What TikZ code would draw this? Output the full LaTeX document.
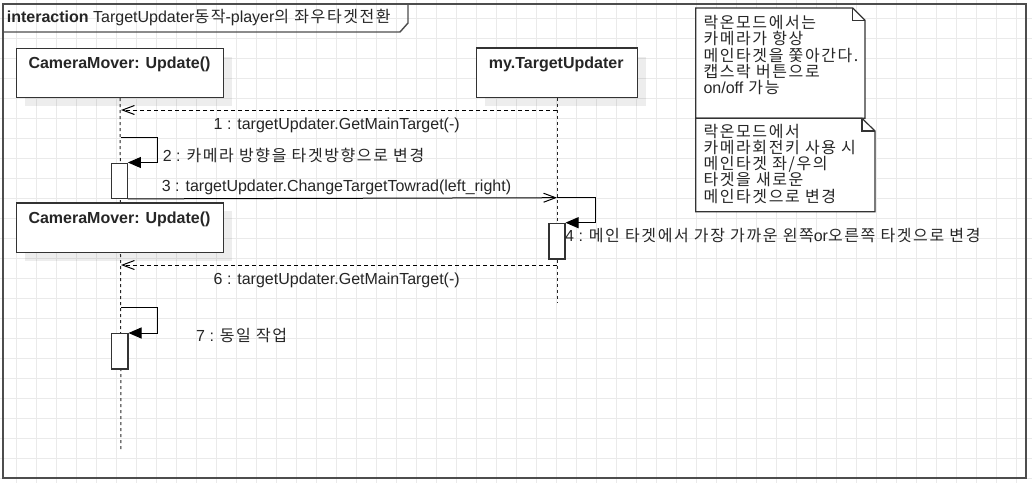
\documentclass[tikz,border=0pt]{standalone}
\usepackage{fontspec}
\setmainfont{Liberation Sans}
\newfontfamily\kr[LetterSpace=10]{Noto Sans CJK KR}
\usetikzlibrary{arrows.meta}
\definecolor{gridc}{HTML}{EAEAEA}
\definecolor{linec}{HTML}{333333}
\definecolor{framec}{HTML}{4D4D4D}
\tikzset{
  txt/.style={inner sep=0pt, font=\fontsize{16pt}{16pt}\selectfont, text=black!85},
  boxtxt/.style={txt, font=\bfseries\fontsize{16pt}{16pt}\selectfont, anchor=base},
  lifebox/.style={draw=linec, line width=1.2pt, fill=white, anchor=north west, inner sep=0pt},
  shadowbox/.style={fill=black, fill opacity=0.07},
  lifeline/.style={draw=black!85, line width=1pt, dash pattern=on 3pt off 3pt},
  actbox/.style={draw=linec, line width=1.2pt, fill=white, anchor=north west, inner sep=0pt, minimum width=16pt},
  callmsg/.style={draw=black, line width=1pt, -{Straight Barb[length=12pt,width=9pt]}},
  retmsg/.style={draw=black, line width=1pt, dash pattern=on 4pt off 3pt, -{Straight Barb[length=12pt,width=9pt]}},
  selfmsg/.style={draw=black, line width=1pt, -{Triangle[length=13pt,width=11pt]}},
  notebox/.style={draw=linec, line width=1.2pt, fill=white},
  notetxt/.style={inner sep=0pt, align=left, anchor=base west, font=\kr\fontsize{16pt}{16.2pt}\selectfont, text=black!85},
}
\begin{document}
\begin{tikzpicture}[x=1pt,y=-1pt]
\useasboundingbox (0,0) rectangle (1032,483);
\fill[white] (0,0) rectangle (1032,483);
% grid
\foreach \gx in {16.7,36.7,...,1031} \draw[gridc, line width=0.9pt] (\gx,0) -- (\gx,483);
\foreach \gy in {18.3,38.3,...,482} \draw[gridc, line width=0.9pt] (0,\gy) -- (1032,\gy);
% frame
\draw[framec, line width=1.6pt] (3,4) rectangle (1026,478);
\draw[framec, line width=1.4pt] (3,32) -- (400,32) -- (408,23) -- (408,4);
\node[txt, anchor=base west] (title) at (6.7,22.3) {\textbf{interaction} TargetUpdater{\kr 동작}-player{\kr 의 좌우타겟전환}};
% shadows
\fill[shadowbox] (25,57) rectangle (232,106);
\fill[shadowbox] (485,56.5) rectangle (645.7,106);
\fill[shadowbox] (25,211.3) rectangle (232,261);
% lifelines
\coordinate (camend) at (121,452);
\coordinate (tgtend) at (557,302);
\node[lifebox, minimum width=207pt, minimum height=49pt] (cam1) at (16,48) {};
\node[lifebox, minimum width=161pt, minimum height=49.4pt] (tgt) at (475.7,47.3) {};
\draw[lifeline] (cam1.south) -- (camend);
\draw[lifeline] (tgt.south -| tgtend) -- (tgtend);
\node[boxtxt] (cam1t) at (119.5,68.5) {CameraMover: Update()};
\node[boxtxt] (tgtt) at (556.2,68.5) {my.TargetUpdater};
\node[lifebox, minimum width=207pt, minimum height=49.5pt] (cam2) at (16,202.3) {};
\node[boxtxt] (cam2t) at (119.5,223.5) {CameraMover: Update()};
% activation boxes
\node[actbox, minimum height=35.2pt, minimum width=15.7pt] (act1) at (111,162.5) {};
\node[actbox, minimum height=35.6pt] (act2) at (548.3,222.7) {};
\node[actbox, minimum height=35.3pt, minimum width=16.6pt] (act3) at (110.7,333) {};
% message coordinates
\coordinate (m1s) at (557,110);
\coordinate (m1e) at (121,110);
\coordinate (m2s) at (121,137.7);
\coordinate (m3e) at (557,197.7);
\coordinate (m6s) at (557,265);
\coordinate (m6e) at (121,265);
\coordinate (m7s) at (121,307.7);
% messages
\draw[retmsg] (m1s) -- (m1e);
\draw[selfmsg] (m2s) -- (157.5,137.7) -- (157.5,162.5) -- (act1.north east);
\draw[callmsg] (act1.south east) -- (m3e);
\draw[selfmsg] (m3e) -- (595,197.7) -- (595,222.7) -- (act2.north east);
\draw[retmsg] (m6s) -- (m6e);
\draw[selfmsg] (m7s) -- (157.3,307.7) -- (157.3,333) -- (act3.north east);
% labels
\node[txt, anchor=base] (l1) at (336.7,129) {1 : targetUpdater.GetMainTarget(-)};
\node[txt, anchor=base west] (l2) at (162.7,161) {2 : {\kr 카메라 방향을 타겟방향으로 변경}};
\node[txt, anchor=base west] (l3) at (161.7,191) {3 : targetUpdater.ChangeTargetTowrad(left\_right)};
\node[txt, anchor=base west] (l4) at (565,241) {4 : {\kr 메인 타겟에서 가장 가까운 왼쪽}or{\kr 오른쪽 타겟으로 변경}};
\node[txt, anchor=base] (l6) at (336.7,284) {6 : targetUpdater.GetMainTarget(-)};
\node[txt, anchor=base west] (l7) at (196,341) {7 : {\kr 동일 작업}};
% notes
\draw[notebox] (695.7,8) -- (852.7,8) -- (865,20.3) -- (865,118.3) -- (695.7,118.3) -- cycle;
\draw[linec, line width=1.2pt] (852.7,8) -- (852.7,20.3) -- (865,20.3);
\draw[notebox] (695.7,118.3) -- (862,118.3) -- (875,131) -- (875,211.7) -- (695.7,211.7) -- cycle;
\draw[linec, line width=1.2pt] (862,118.3) -- (862,131) -- (875,131);
\node[notetxt] (n1) at (703.3,93.4) {락온모드에서는\\카메라가 항상\\메인타겟을 쫓아간다.\\캡스락 버튼으로\\{\rmfamily on/off} 가능};
\node[notetxt] (n2) at (703.3,202) {락온모드에서\\카메라회전키 사용 시\\메인타겟 좌/우의\\타겟을 새로운\\메인타겟으로 변경};
\end{tikzpicture}
\end{document}
